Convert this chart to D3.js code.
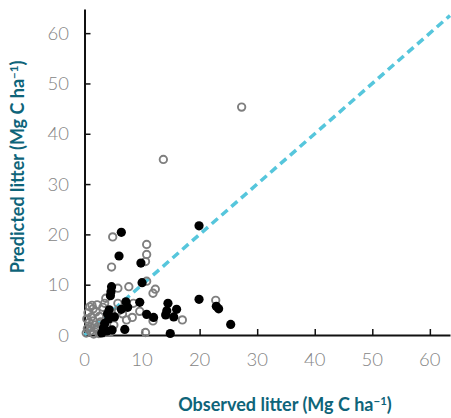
<!DOCTYPE html>
<html>
<head>
<meta charset="utf-8">
<script src="https://cdn.jsdelivr.net/npm/d3@7"></script>
<style>
  html, body { margin: 0; padding: 0; background: #fff; }
  svg { display: block; }
  .tick-label { font-family: "Lato", "Open Sans", sans-serif; font-weight: 300; font-size: 18.5px; fill: #858585; }
  .axis-title { font-family: "Lato", "Open Sans", sans-serif; font-weight: 700; font-size: 18px; fill: #0e6479; }
</style>
</head>
<body>
<svg id="chart" width="451" height="418"></svg>
<script>
// Observed vs predicted litter carbon stocks (Mg C ha-1)
const xTicks = [0, 10, 20, 30, 40, 50, 60];
const yTicks = [0, 10, 20, 30, 40, 50, 60];

// Sites shown as filled markers: [observed, predicted]
const filledObserved = [19.9, 6.4, 6.0, 9.8, 10.0, 4.7, 4.6, 4.5, 19.9, 9.6, 7.2, 14.5, 22.9, 23.3, 16.0, 14.3, 14.1, 15.5, 10.8, 12.0, 25.4, 14.9, 7.0, 6.4, 7.5, 4.3, 4.0, 4.2, 3.5, 3.3, 3.9, 3.0, 5.2, 4.8];
const filledPredicted = [21.7, 20.4, 15.7, 14.3, 10.4, 9.6, 8.6, 7.8, 7.1, 6.5, 6.6, 6.3, 5.7, 5.2, 5.1, 4.8, 4.0, 3.6, 4.1, 3.5, 2.1, 0.3, 1.1, 5.1, 5.5, 5.0, 4.2, 3.2, 2.3, 1.4, 0.8, 0.4, 3.6, 1.0];

// Sites shown as open markers: [observed, predicted]
const openObserved = [27.3, 13.7, 4.9, 10.8, 10.8, 10.6, 4.7, 10.8, 7.7, 5.8, 12.3, 11.9, 22.8, 3.7, 3.5, 5.8, 7.2, 8.5, 9.6, 8.3, 17.0, 11.9, 10.6, 5.9, 6.6, 7.3, 2.3, 0.5, 0.8, 1.2, 0.6, 1.5, 2.0, 2.6, 1.8, 1.0, 0.3, 2.5, 3.1, 3.8, 4.5, 2.2, 3.2, 0.9, 1.6, 2.8, 3.5, 5.1, 1.5, 1.0, 0.4, 2.0, 1.3];
const openPredicted = [45.3, 34.9, 19.5, 18.0, 16.0, 14.6, 13.5, 10.7, 9.6, 9.3, 9.1, 8.3, 6.9, 7.3, 6.3, 6.3, 6.3, 6.3, 4.7, 3.5, 3.0, 2.8, 0.5, 4.8, 4.2, 3.0, 1.1, 1.3, 2.5, 3.6, 4.4, 5.2, 4.6, 3.7, 2.0, 0.8, 0.4, 0.3, 1.8, 1.3, 0.6, 6.0, 5.5, 5.6, 0.2, 2.6, 0.5, 2.0, 2.8, 1.6, 3.2, 1.2, 5.9];

// 1:1 reference line endpoints
const oneToOne = [0, 63.5];

const svg = d3.select("#chart");

const x = d3.scaleLinear().domain([0, 63.5]).range([84.5, 450]);
const y = d3.scaleLinear().domain([0, 64.8]).range([335, 9]);

// Axes with inward ticks
const xAxis = svg.append("g").attr("transform", `translate(0,${y(0)})`)
  .call(d3.axisBottom(x).tickValues(xTicks).tickSizeInner(-6).tickSizeOuter(0).tickFormat(""));
const yAxis = svg.append("g").attr("transform", `translate(${x(0)},0)`)
  .call(d3.axisLeft(y).tickValues(yTicks).tickSizeInner(-6).tickSizeOuter(0).tickFormat(""));
[xAxis, yAxis].forEach(g => {
  g.select(".domain").attr("stroke", "#111").attr("stroke-width", 2);
  g.selectAll(".tick line").attr("stroke", "#111").attr("stroke-width", 1.5);
});

// Tick labels
svg.append("g").selectAll("text").data(xTicks).join("text")
  .attr("class", "tick-label")
  .attr("x", d => x(d)).attr("y", 366)
  .attr("text-anchor", "middle")
  .text(d => d);
svg.append("g").selectAll("text").data(yTicks).join("text")
  .attr("class", "tick-label")
  .attr("x", 69).attr("y", d => y(d) + 6.5)
  .attr("text-anchor", "end")
  .text(d => d);

// 1:1 line
svg.append("line")
  .attr("x1", x(oneToOne[0])).attr("y1", y(oneToOne[0]))
  .attr("x2", x(oneToOne[1])).attr("y2", y(oneToOne[1]))
  .attr("stroke", "#56c6dc").attr("stroke-width", 3.5)
  .attr("stroke-dasharray", "8,5");

// Open markers
svg.append("g").selectAll("circle").data(d3.range(openObserved.length)).join("circle")
  .attr("cx", i => x(openObserved[i]))
  .attr("cy", i => y(openPredicted[i]))
  .attr("r", 3.7)
  .attr("fill", "none")
  .attr("stroke", "#7f7f7f")
  .attr("stroke-width", 1.9);

// Filled markers
svg.append("g").selectAll("circle").data(d3.range(filledObserved.length)).join("circle")
  .attr("cx", i => x(filledObserved[i]))
  .attr("cy", i => y(filledPredicted[i]))
  .attr("r", 4.6)
  .attr("fill", "#000");

// Axis titles
svg.append("text").attr("class", "axis-title")
  .attr("x", 285).attr("y", 411).attr("text-anchor", "middle")
  .text("Observed litter (Mg C ha")
  .append("tspan").attr("dy", -6).attr("font-size", 11.5).text("−1")
  .select(function() { return this.parentNode; })
  .append("tspan").attr("dy", 6).text(")");

svg.append("text").attr("class", "axis-title")
  .attr("transform", "translate(24,167) rotate(-90)")
  .attr("text-anchor", "middle")
  .text("Predicted litter (Mg C ha")
  .append("tspan").attr("dy", -6).attr("font-size", 11.5).text("−1")
  .select(function() { return this.parentNode; })
  .append("tspan").attr("dy", 6).text(")");
</script>
</body>
</html>
